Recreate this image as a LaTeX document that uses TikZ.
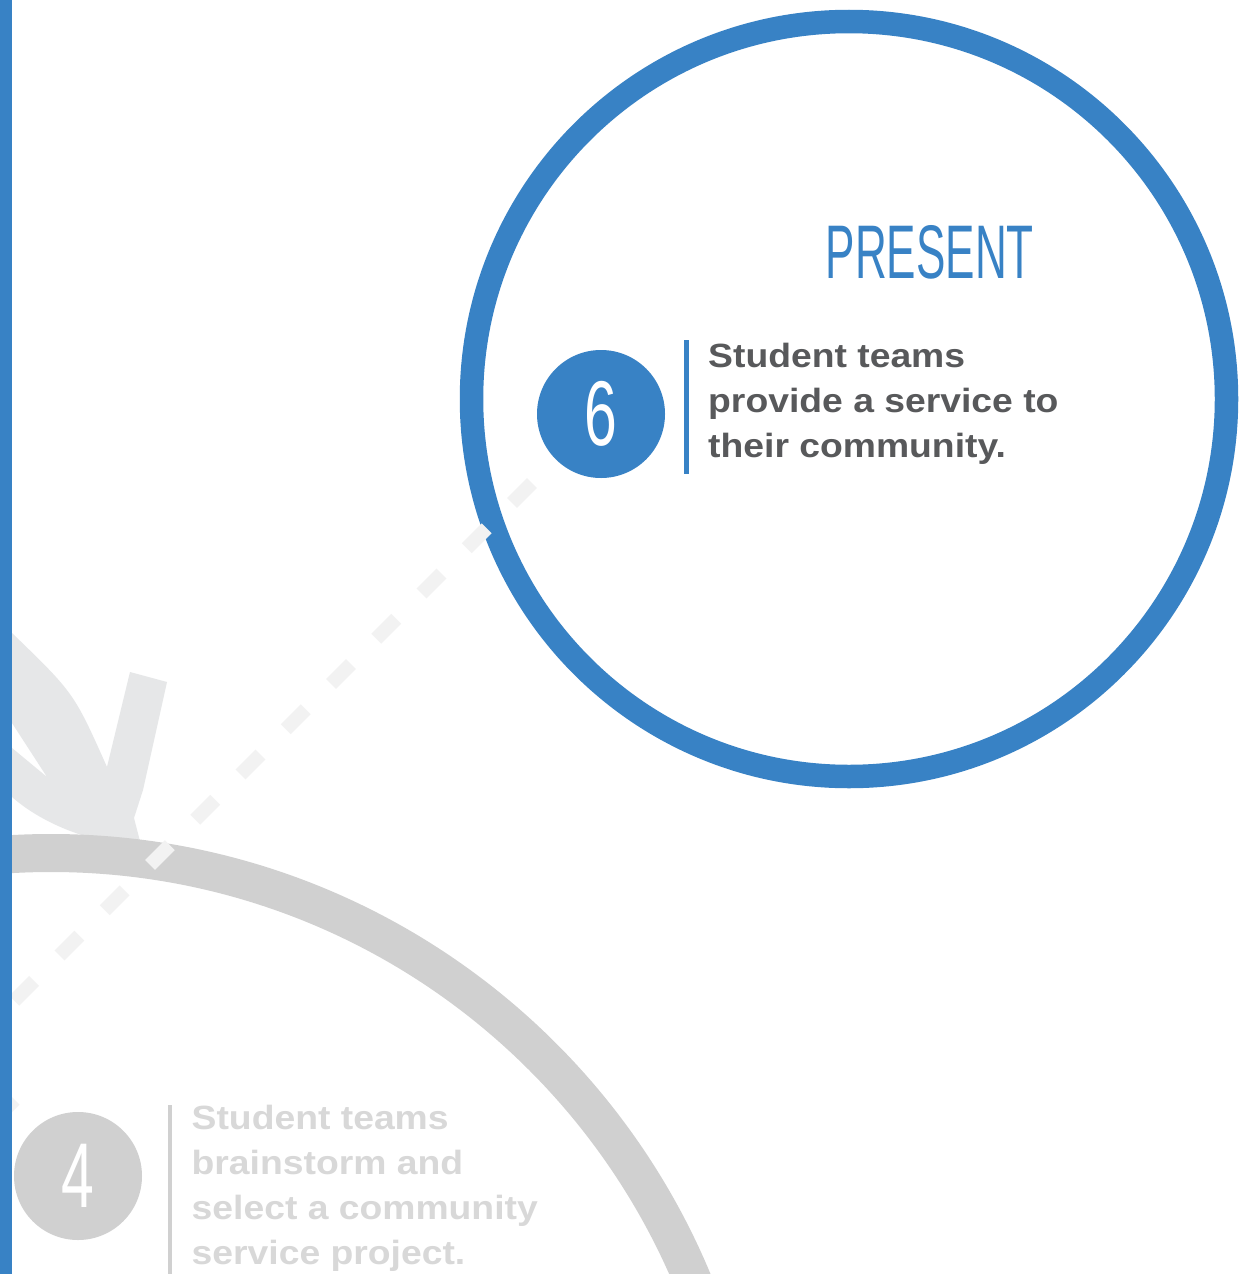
\documentclass[tikz,border=0pt]{standalone}
\usepackage{fontspec}
\setmainfont{Liberation Sans}
\newfontfamily\bodyfont[FakeStretch=1.11]{Liberation Sans}
\newfontfamily\thinfont[FakeStretch=0.58]{Liberation Sans}
\newfontfamily\digitfont[FakeStretch=0.64]{Liberation Sans}
\definecolor{mainblue}{RGB}{56,130,197}
\definecolor{ringgray}{RGB}{208,208,208}
\definecolor{arrowgray}{RGB}{230,231,232}
\definecolor{dashgray}{RGB}{242,242,242}
\definecolor{darktext}{RGB}{88,89,91}
\definecolor{lighttext}{RGB}{216,216,216}
\begin{document}
\begin{tikzpicture}[x=1pt,y=-1pt,
  stepnum/.style={circle, minimum size=128pt, inner sep=0pt, text=white,
    font=\digitfont\fontsize{92}{92}\selectfont},
  bodyline/.style={anchor=base west, inner sep=0pt,
    font=\bodyfont\bfseries\fontsize{33.6}{45}\selectfont},
  divider/.style={line width=4.5pt},
  dashline/.style={dashgray, line width=14pt, dash pattern=on 28pt off 36pt, dash phase=30.3pt}
]
\useasboundingbox (0,0) rectangle (1247,1274);
\clip (0,0) rectangle (1247,1274);
\fill[white] (0,0) rectangle (1247,1274);

% light gray curved arrow
\fill[arrowgray] (0,621) -- (12,633) .. controls (74,693) .. (107,767)
  -- (130,672) -- (167,682) -- (143,790) -- (134,818) -- (141,845)
  -- (133,845) .. controls (95,843) and (45,826) .. (12,797)
  -- (0,787) -- (0,738) -- (47,777) -- (12,723) -- (0,705) -- cycle;

% rings
\draw[ringgray, line width=38pt] (51,1548) circle[radius=695pt];
\draw[mainblue, line width=23.5pt] (849,399) circle[radius=377.5pt];

% faint mark at left
\fill[dashgray] (12,1097) -- (19.5,1104.5) -- (12,1112) -- cycle;

% dashed connector
\coordinate (c6) at (601,414);
\coordinate (c4) at (78,1176);
\coordinate (lt) at (0,1015);
\draw[dashline] (c6) -- (lt);

% step 6
\node[stepnum, fill=mainblue] (six) at (c6) {6};
\draw[mainblue, divider] (686.5,340) -- (686.5,474);
\node[bodyline, text=darktext] (t6a) at (708,367.5) {Student teams};
\node[bodyline, text=darktext] (t6b) at (708,412.5) {provide a service to};
\node[bodyline, text=darktext] (t6c) at (708,457.5) {their community.};
\node[anchor=base west, inner sep=0pt, text=mainblue,
  font=\thinfont\fontsize{76}{76}\selectfont] (title) at (825.5,278) {PRESENT};

% step 4
\node[stepnum, fill=ringgray] (four) at (c4) {4};
\draw[ringgray, divider] (170,1105) -- (170,1274);
\node[bodyline, text=lighttext] (t4a) at (191.5,1129) {Student teams};
\node[bodyline, text=lighttext] (t4b) at (191.5,1174) {brainstorm and};
\node[bodyline, text=lighttext] (t4c) at (191.5,1219) {select a community};
\node[bodyline, text=lighttext] (t4d) at (191.5,1264) {service project.};

% left blue bar
\fill[mainblue] (0,0) rectangle (12,1274);
\end{tikzpicture}
\end{document}
